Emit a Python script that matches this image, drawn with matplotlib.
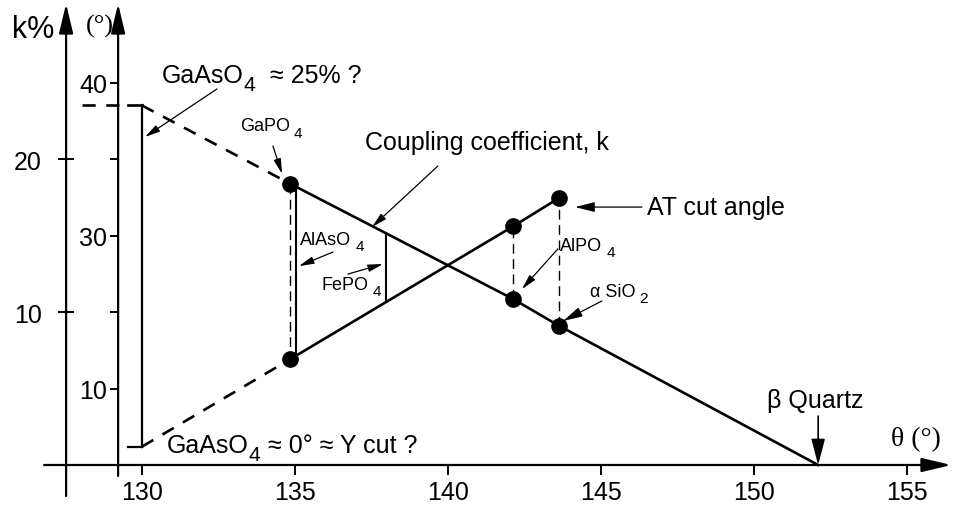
import numpy as np
import matplotlib
matplotlib.use("Agg")
import matplotlib.pyplot as plt

plt.rcParams["font.family"] = ["Liberation Sans", "DejaVu Sans"]

# Coupling coefficient k (%) against theta: GaAsO4 (extrapolated), GaPO4, AlPO4, alpha-SiO2, beta quartz
theta_k = [130.0, 134.83, 142.13, 143.63, 152.1]
k_pct = [23.5, 18.4, 10.85, 9.1, 0.0]

# AT cut angle (deg) against theta: GaAsO4 (extrapolated), GaPO4, AlPO4, alpha-SiO2
theta_at = [130.0, 134.83, 142.13, 143.63]
at_angle = [16.2, 21.9, 30.6, 32.45]

# Compounds lying between GaPO4 and AlPO4
theta_alaso4 = 135.02
theta_fepo4 = 137.97

x_ticks = [130, 135, 140, 145, 150, 155]
k_ticks = [10, 20]
k_tick_labels = ["10", "20"]
angle_ticks = [20, 25, 30, 35, 40]
angle_tick_labels = ["10", "", "30", "", "40"]

# layout
ANGLE_OFFSET = 15.0          # angle axis sits 15 deg above the k% axis
XLIM = (125.36, 156.54)
YLIM = (-2.876, 30.46)
K_AXIS_X = 127.52
ANGLE_AXIS_X = 129.22
LW = 1.9

fig = plt.figure(figsize=(9.54, 5.10), dpi=100)
ax = fig.add_axes([0, 0, 1, 1])
ax.set_xlim(*XLIM)
ax.set_ylim(*YLIM)
ax2 = ax.twinx()
ax2.set_ylim(YLIM[0] + ANGLE_OFFSET, YLIM[1] + ANGLE_OFFSET)
ax.patch.set_visible(False)

for a in (ax, ax2):
    for s in a.spines.values():
        s.set_visible(False)

ax.spines["left"].set_position(("data", K_AXIS_X))
ax.spines["bottom"].set_position(("data", 0))
ax2.yaxis.set_ticks_position("left")
ax2.spines["left"].set_position(("data", ANGLE_AXIS_X))

ax.set_xticks(x_ticks)
ax.set_xticklabels([str(t) for t in x_ticks])
ax.tick_params(axis="x", direction="out", length=7.5, width=1.4, pad=3,
               labelsize=18)
ax.set_yticks(k_ticks)
ax.set_yticklabels(k_tick_labels)
ax.tick_params(axis="y", direction="inout", length=11, width=1.4, pad=12,
               labelsize=18)
ax2.set_yticks(angle_ticks)
ax2.set_yticklabels(angle_tick_labels)
ax2.tick_params(axis="y", direction="out", length=6, width=1.4, pad=2,
                labelsize=18, left=True, right=False, labelleft=True,
                labelright=False)

axis_arrow = dict(arrowstyle="-|>,head_length=1.8,head_width=0.43",
                  lw=1.6, color="k", mutation_scale=10,
                  shrinkA=0, shrinkB=0)
ax.annotate("", xy=(K_AXIS_X, 30.15), xytext=(K_AXIS_X, -2.03),
            arrowprops=axis_arrow)
ax.annotate("", xy=(ANGLE_AXIS_X, 30.15), xytext=(ANGLE_AXIS_X, -0.72),
            arrowprops=axis_arrow)
ax.annotate("", xy=(156.45, 0), xytext=(126.8, 0), arrowprops=axis_arrow)

# coupling coefficient curve: dashed extrapolation, then measured part
ax.plot(theta_k[:2], k_pct[:2], color="k", lw=LW, ls=(0, (5, 4)))
ax.plot(theta_k[1:], k_pct[1:], color="k", lw=LW)
ax.plot(theta_k[1:4], k_pct[1:4], "o", color="k", ms=11)

# AT cut angle curve
ax2.plot(theta_at[:2], at_angle[:2], color="k", lw=LW, ls=(0, (5, 4)))
ax2.plot(theta_at[1:], at_angle[1:], color="k", lw=LW)
ax2.plot(theta_at[1:], at_angle[1:], "o", color="k", ms=11)

# dashed links between the two values of each material
for th, kv, av in zip(theta_k[1:4], k_pct[1:4], at_angle[1:]):
    ax.plot([th, th], [kv, av - ANGLE_OFFSET], color="k", lw=1.0,
            ls=(0, (7, 4)))

# solid bars for AlAsO4 and FePO4 between the two curves
at_k = [a - ANGLE_OFFSET for a in at_angle]
for th in (theta_alaso4, theta_fepo4):
    top = np.interp(th, theta_k, k_pct)
    bot = np.interp(th, theta_at, at_k)
    ax.plot([th, th], [bot, top], color="k", lw=1.5)

# GaAsO4 bracket: range of extrapolated values at theta = 130
ax.plot([theta_k[0], theta_k[0]], [at_k[0], k_pct[0]], color="k", lw=1.6)
ax.plot([128.04, 129.55], [k_pct[0], k_pct[0]], color="k", lw=LW,
        ls=(0, (5, 4)))
ax.plot([129.55, theta_k[0]], [k_pct[0], k_pct[0]], color="k", lw=LW)
ax.plot([129.54, theta_k[0]], [at_k[0], at_k[0]], color="k", lw=1.6)


def formula(x, y, base, sub, size, tail="", gap=1.0, drop=4.0):
    t = ax.text(x, y, base, fontsize=size, ha="left", va="center")
    s = ax.annotate(sub, xy=(1, 0), xycoords=t, xytext=(gap, -drop),
                    textcoords="offset points", fontsize=size * 0.85,
                    ha="left", va="bottom")
    if tail:
        ax.annotate(tail, xy=(1, 0), xycoords=s, xytext=(0, drop),
                    textcoords="offset points", fontsize=size,
                    ha="left", va="bottom")


def pointer(start, end, head=(0.9, 0.22), lw=0.9):
    ax.annotate("", xy=end, xytext=start,
                arrowprops=dict(arrowstyle="-|>,head_length=%g,head_width=%g"
                                % head, lw=lw, color="k", mutation_scale=10,
                                shrinkA=0, shrinkB=0))


ax.text(126.44, 28.5, "k%", fontsize=22, ha="center", va="center")
ax.text(128.63, 28.7, "(°)", fontsize=19, ha="center", va="center",
        family=["Liberation Serif", "DejaVu Serif"])
ax.text(155.3, 1.75, "θ (°)", fontsize=20, ha="center", va="center",
        family=["Liberation Serif", "DejaVu Serif"])

formula(130.65, 25.5, "GaAsO", "4", 18, tail="  ≈ 25% ?", gap=0, drop=5)
pointer((132.45, 24.58), (130.1, 21.44))

formula(133.2, 22.16, "GaPO", "4", 13, gap=3, drop=4)
pointer((134.28, 20.85), (134.58, 19.03))

ax.text(137.29, 21.1, "Coupling coefficient, k", fontsize=18,
        ha="left", va="center")
pointer((139.67, 19.54), (137.52, 15.56))

ax.text(146.5, 16.86, "AT cut angle", fontsize=18, ha="left", va="center")
pointer((146.34, 16.86), (144.15, 16.86), head=(1.2, 0.3))

formula(135.16, 14.77, "AlAsO", "4", 13, gap=3, drop=4)
pointer((136.24, 13.92), (135.13, 13.0))

formula(135.88, 11.83, "FePO", "4", 13, gap=3, drop=4)
pointer((136.73, 12.48), (137.88, 13.14))

formula(143.66, 14.38, "AlPO", "4", 13, gap=3, drop=4)
pointer((143.59, 14.12), (142.42, 11.5))

formula(144.64, 11.37, "α SiO", "2", 13, gap=3, drop=4)
pointer((145.03, 10.72), (143.76, 9.41), head=(1.2, 0.3))

ax.text(150.42, 4.25, "β Quartz", fontsize=18, ha="left", va="center")
pointer((152.1, 3.2), (152.1, 0), head=(1.6, 0.42), lw=1.2)

formula(130.82, 1.3, "GaAsO", "4", 18, tail=" ≈ 0° ≈ Y cut ?", gap=0,
        drop=5)

fig.savefig("out.png", dpi=100)
